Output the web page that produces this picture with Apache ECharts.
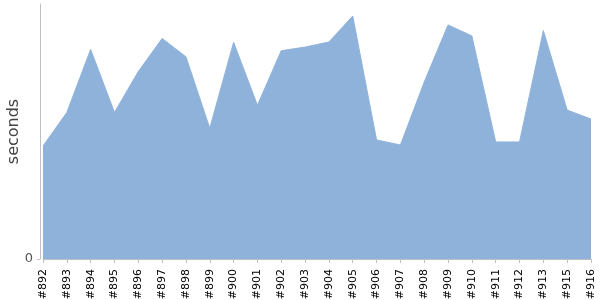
<!DOCTYPE html>
<html><head><meta charset="utf-8">
<script src="https://cdn.jsdelivr.net/npm/echarts@6/dist/echarts.min.js"></script>
<style>html,body{margin:0;padding:0;background:#fff}#c{width:600px;height:300px}</style>
</head><body><div id="c"></div>
<script>
const categories = ['#892','#893','#894','#895','#896','#897','#898','#899','#900','#901','#902','#903','#904','#905','#906','#907','#908','#909','#910','#911','#912','#913','#915','#916'];
const seconds = [44.3,57.5,82.2,57.5,73.5,86.5,79.3,51.3,85.0,60.3,81.7,83.1,85.1,95.3,46.7,44.7,69.4,91.8,87.5,45.9,45.9,89.6,58.4,54.9];
const yTicks = [0];

const chart = echarts.init(document.getElementById('c'), null, {renderer:'canvas'});
chart.setOption({
  animation:false,
  textStyle:{fontFamily:'DejaVu Sans'},
  grid:{left:43,right:9,top:4,bottom:41,containLabel:false,outerBoundsMode:'none'},
  xAxis:{
    type:'category', data:categories, boundaryGap:false, offset:4,
    axisLine:{lineStyle:{color:'#c0c0c0'}},
    axisTick:{alignWithLabel:true,length:4,lineStyle:{color:'#c0c0c0'}},
    axisLabel:{rotate:90,interval:0,color:'#000',fontSize:11,margin:6,fontFamily:'DejaVu Sans'},
    splitLine:{show:false}
  },
  yAxis:{
    type:'value', min:0, max:100, offset:3,
    name:'seconds', nameLocation:'middle', nameGap:18, nameMoveOverlap:false,
    nameTextStyle:{fontSize:16,color:'#444',fontFamily:'DejaVu Sans'},
    axisLine:{show:true,lineStyle:{color:'#c0c0c0'}},
    axisTick:{show:true,length:3,customValues:yTicks,lineStyle:{color:'#c0c0c0'}},
    axisLabel:{customValues:yTicks,color:'#555',fontSize:13,margin:7},
    splitLine:{show:false}
  },
  series:[{
    type:'line', data:seconds, symbol:'none',
    lineStyle:{width:1,color:'#8fb2da'},
    areaStyle:{color:'#8fb2da',opacity:1}
  }]
});
</script></body></html>
